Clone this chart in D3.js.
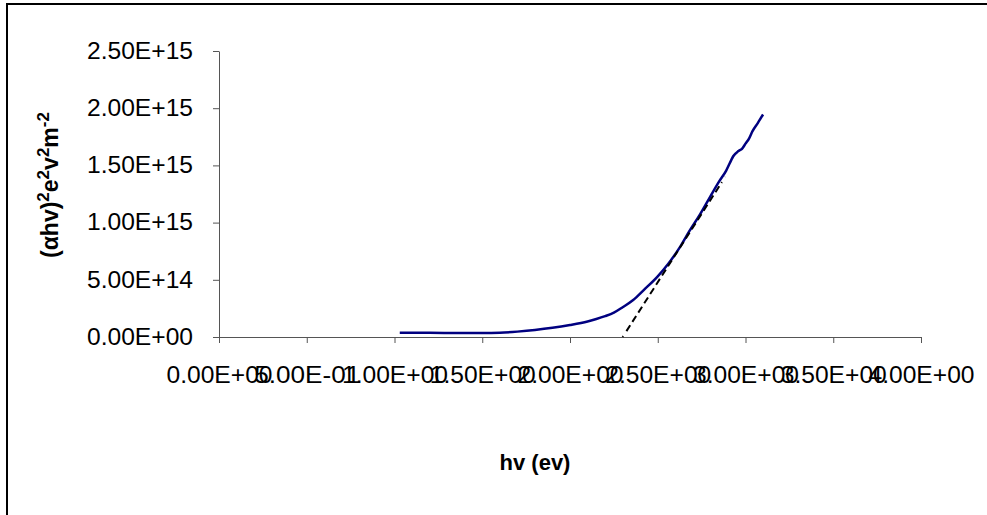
<!DOCTYPE html>
<html>
<head>
<meta charset="utf-8">
<script src="https://cdn.jsdelivr.net/npm/d3@7"></script>
<style>
  body { margin: 0; background: #fff; }
  svg { display: block; font-family: "Liberation Sans", Arial, sans-serif; }
</style>
</head>
<body>
<div id="chart"></div>
<script>
// photon energy (eV) and (alpha h v)^2
const hv = [1.03, 1.2, 1.4, 1.5, 1.6, 1.7, 1.8, 1.9, 2.0, 2.1, 2.15, 2.2, 2.25, 2.3, 2.36, 2.42,
  2.5, 2.56, 2.63, 2.68, 2.74, 2.8, 2.85, 2.89, 2.92, 2.93, 2.96, 2.98, 3.0, 3.02, 3.04, 3.07, 3.1];
const ahv2 = [3.8e13, 3.7e13, 3.4e13, 3.4e13, 3.7e13, 4.7e13, 6.1e13, 8.0e13, 1.05e14, 1.36e14, 1.57e14,
  1.82e14, 2.13e14, 2.6e14, 3.23e14, 4.1e14, 5.3e14, 6.4e14, 7.95e14, 9.25e14, 1.07e15, 1.23e15,
  1.36e15, 1.455e15, 1.55e15, 1.58e15, 1.625e15, 1.645e15, 1.69e15, 1.735e15, 1.8e15, 1.87e15, 1.945e15];

// linear fit extrapolated to the energy axis
const fitX = [2.30, 2.885];
const fitY = [0, 1.40e15];

const xTicks = [0, 0.5, 1, 1.5, 2, 2.5, 3, 3.5, 4];
const yTicks = [0, 5e14, 1e15, 1.5e15, 2e15, 2.5e15];

const width = 987, height = 515;

function sci(v) {
  const [m, e] = v.toExponential(2).split("e");
  const n = Math.abs(+e);
  return m + "E" + (+e < 0 ? "-" : "+") + (n < 10 ? "0" + n : n);
}

const svg = d3.select("#chart").append("svg")
  .attr("width", width)
  .attr("height", height);

// chart border (runs off the bottom and right edge)
svg.append("rect")
  .attr("x", 7).attr("y", 4)
  .attr("width", 1000).attr("height", 540)
  .attr("fill", "none")
  .attr("stroke", "#000")
  .attr("stroke-width", 2);

const x = d3.scaleLinear().domain([0, 4]).range([219, 921]);
const y = d3.scaleLinear().domain([0, 2.5e15]).range([337, 51]);

const xAxis = svg.append("g")
  .attr("transform", `translate(0,${y(0)})`)
  .call(d3.axisBottom(x).tickValues(xTicks).tickFormat(sci).tickSize(6).tickPadding(24).tickSizeOuter(0));

const yAxis = svg.append("g")
  .attr("transform", `translate(${x(0)},0)`)
  .call(d3.axisLeft(y).tickValues(yTicks).tickFormat(sci).tickSize(6).tickPadding(20).tickSizeOuter(0));

[xAxis, yAxis].forEach(g => {
  g.select(".domain").attr("stroke", "#555");
  g.selectAll(".tick line").attr("stroke", "#555");
  g.selectAll(".tick text")
    .attr("fill", "#000")
    .style("font-size", "23px")
    .attr("textLength", 106)
    .attr("lengthAdjust", "spacingAndGlyphs");
});

const line = d3.line()
  .x((d, i) => x(hv[i]))
  .y(d => y(d))
  .curve(d3.curveMonotoneX);

svg.append("path")
  .datum(ahv2)
  .attr("fill", "none")
  .attr("stroke", "#000080")
  .attr("stroke-width", 2.5)
  .attr("d", line);

svg.append("path")
  .datum(fitY)
  .attr("fill", "none")
  .attr("stroke", "#000")
  .attr("stroke-width", 2)
  .attr("stroke-dasharray", "1,6,7,4,7,4,7,4,7,4,7,4,7,4,7,4,7,4,7,4,7,4,7,4,7,4,7,4,7,4,7,4,7,4")
  .attr("d", d3.line().x((d, i) => x(fitX[i])).y(d => y(d)));

// axis titles
svg.append("text")
  .attr("x", 535).attr("y", 470)
  .attr("text-anchor", "middle")
  .style("font-size", "22px")
  .style("font-weight", "bold")
  .text("hv (ev)");

const yt = svg.append("text")
  .attr("transform", "translate(58,185) rotate(-90)")
  .attr("text-anchor", "middle")
  .style("font-size", "23px")
  .style("font-weight", "bold");
const parts = [["(αhv)", false], ["2", true], ["e", false], ["2", true], ["v", false], ["2", true], ["m", false], ["-2", true]];
parts.forEach(([t, sup]) => {
  const s = yt.append("tspan").text(t);
  if (sup) s.attr("baseline-shift", "super").style("font-size", "17px");
});
</script>
</body>
</html>
